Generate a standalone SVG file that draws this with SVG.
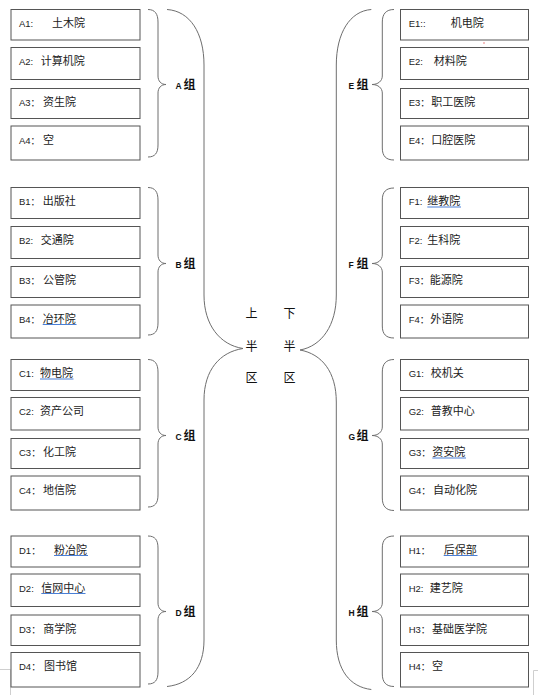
<svg xmlns="http://www.w3.org/2000/svg" width="538" height="695" viewBox="0 0 538 695">
<style>
.box{fill:#fff;stroke:#555;stroke-width:1}
.br{fill:none;stroke:#6e6e6e;stroke-width:1}
.t{font-family:"Liberation Sans","Noto Sans CJK SC",sans-serif;font-size:9.5px;fill:#222}
.n{font-family:"Noto Sans CJK SC","Noto Sans CJK JP",sans-serif;font-size:11px;fill:#222}
.g{font-family:"Liberation Sans","Noto Sans CJK SC",sans-serif;font-size:8.5px;font-weight:bold;fill:#111}
.gz{font-family:"Noto Sans CJK SC",sans-serif;font-size:12px;font-weight:bold;fill:#111}
.c{font-family:"Noto Sans CJK SC",sans-serif;font-size:12px;fill:#111}
.u{stroke:#4a7fd6;stroke-width:1.2}
.mark{fill:none;stroke:#cfcfcf;stroke-width:1}
</style>
<rect width="538" height="695" fill="#fff"/>

<!-- page marks -->
<path class="mark" d="M0,669.5 H10.5 V695"/>
<path class="mark" d="M538,670.5 H533.5 V695"/>
<circle cx="484" cy="43" r="0.7" fill="#e05050"/>

<g id="connectors">
  <!-- big braces -->
  <path class="br" d="M167,9.5 C190,11 204,33 204,65 L204,295 C204,325 220,345 243,348.5 C220,352 204,370 204,400 L204,640 C204,668 190,684 167,686.5"/>
  <path class="br" d="M371.3,9.5 C350,11 336.3,33 336.3,65 L336.3,295 C336.3,325 322,346 300,350 C322,354 336.3,372 336.3,402 L336.3,640 C336.3,670 350,687 371.3,689.5"/>
  <!-- left group braces -->
  <path class="br" d="M148,9.5 C155,9.5 158,14 158,22 L158,76 C158,81 161,84.5 166,84.5 C161,84.5 158,88 158,93 L158,145 C158,153 155,157 148,157"/>
  <path class="br" d="M148,187.5 C155,187.5 158,192 158,200 L158,255 C158,260 161,263.5 166,263.5 C161,263.5 158,267 158,272 L158,323 C158,331 155,335 148,335"/>
  <path class="br" d="M148,359.5 C155,359.5 158,364 158,372 L158,427 C158,432 161,435.5 166,435.5 C161,435.5 158,439 158,444 L158,495 C158,503 155,507 148,507"/>
  <path class="br" d="M148,536 C155,536 158,540 158,548 L158,603 C158,608 161,611.5 166,611.5 C161,611.5 158,615 158,620 L158,672 C158,680 155,684 148,684"/>
  <!-- right group braces -->
  <path class="br" d="M394,9.5 C386,9.5 382.3,14 382.3,22 L382.3,76 C382.3,81 378,84.5 372,84.5 C378,84.5 382.3,88 382.3,93 L382.3,148 C382.3,156 386,160 394,160"/>
  <path class="br" d="M394,188 C386,188 382.3,192 382.3,200 L382.3,255 C382.3,260 378,263.5 372,263.5 C378,263.5 382.3,267 382.3,272 L382.3,326 C382.3,334 386,338 394,338"/>
  <path class="br" d="M394,359.5 C386,359.5 382.3,364 382.3,372 L382.3,427 C382.3,432 378,435.5 372,435.5 C378,435.5 382.3,439 382.3,444 L382.3,498 C382.3,506 386,510.5 394,510.5"/>
  <path class="br" d="M394,536 C386,536 382.3,540 382.3,548 L382.3,603 C382.3,608 378,611.5 372,611.5 C378,611.5 382.3,615 382.3,620 L382.3,674 C382.3,682 386,686.5 394,686.5"/>
</g>

<!-- center labels -->
<g id="center">
  <text class="c" x="245.5" y="317.5">上</text>
  <text class="c" x="245.5" y="351">半</text>
  <text class="c" x="245.5" y="381.5">区</text>
  <text class="c" x="283.5" y="317.5">下</text>
  <text class="c" x="283.5" y="351">半</text>
  <text class="c" x="283.5" y="381.5">区</text>
</g>

<!-- group labels -->
<g id="groupA"><text x="175.5" y="88.5"><tspan class="g">A</tspan><tspan class="gz" x="183.5">组</tspan></text></g>
<g id="groupB"><text x="175.5" y="267.5"><tspan class="g">B</tspan><tspan class="gz" x="183.5">组</tspan></text></g>
<g id="groupC"><text x="175.5" y="439.5"><tspan class="g">C</tspan><tspan class="gz" x="183.5">组</tspan></text></g>
<g id="groupD"><text x="175.5" y="615.5"><tspan class="g">D</tspan><tspan class="gz" x="183.5">组</tspan></text></g>
<g id="groupE"><text x="348.5" y="88.5"><tspan class="g">E</tspan><tspan class="gz" x="356.5">组</tspan></text></g>
<g id="groupF"><text x="348.5" y="267.5"><tspan class="g">F</tspan><tspan class="gz" x="356.5">组</tspan></text></g>
<g id="groupG"><text x="348.5" y="439.5"><tspan class="g">G</tspan><tspan class="gz" x="356.5">组</tspan></text></g>
<g id="groupH"><text x="348.5" y="615.5"><tspan class="g">H</tspan><tspan class="gz" x="356.5">组</tspan></text></g>

<!-- left boxes -->
<g id="A1"><rect class="box" x="11" y="9.5" width="129" height="30.5"/><text class="t" x="19" y="27">A1:<tspan class="n" x="52">土木院</tspan></text></g>
<g id="A2"><rect class="box" x="11" y="47.5" width="129" height="32"/><text class="t" x="19" y="65">A2:<tspan class="n" x="40.7">计算机院</tspan></text></g>
<g id="A3"><rect class="box" x="11" y="88.5" width="129" height="30"/><text class="t" x="19" y="106">A3：<tspan class="n" x="43">资生院</tspan></text></g>
<g id="A4"><rect class="box" x="11" y="126" width="129" height="34"/><text class="t" x="19" y="143.5">A4：<tspan class="n" x="43">空</tspan></text></g>

<g id="B1"><rect class="box" x="11" y="187.5" width="129" height="31"/><text class="t" x="19" y="205">B1：<tspan class="n" x="42.7">出版社</tspan></text></g>
<g id="B2"><rect class="box" x="11" y="226.5" width="129" height="32"/><text class="t" x="19" y="244">B2:<tspan class="n" x="40.7">交通院</tspan></text></g>
<g id="B3"><rect class="box" x="11" y="266.5" width="129" height="31"/><text class="t" x="19" y="284">B3：<tspan class="n" x="43">公管院</tspan></text></g>
<g id="B4"><rect class="box" x="11" y="305" width="129" height="33"/><text class="t" x="19" y="322.5">B4：<tspan class="n" x="42.7">冶环院</tspan></text><line class="u" x1="42.7" y1="324.5" x2="76.5" y2="324.5"/></g>

<g id="C1"><rect class="box" x="11" y="359.5" width="129" height="31"/><text class="t" x="19" y="377">C1:<tspan class="n" x="40">物电院</tspan></text><line class="u" x1="40" y1="379" x2="73.5" y2="379"/></g>
<g id="C2"><rect class="box" x="11" y="397.5" width="129" height="32.5"/><text class="t" x="19" y="415">C2:<tspan class="n" x="40">资产公司</tspan></text></g>
<g id="C3"><rect class="box" x="11" y="438.5" width="129" height="30"/><text class="t" x="19" y="456">C3：<tspan class="n" x="43">化工院</tspan></text></g>
<g id="C4"><rect class="box" x="11" y="476" width="129" height="34"/><text class="t" x="19" y="493.5">C4：<tspan class="n" x="43">地信院</tspan></text></g>

<g id="D1"><rect class="box" x="11" y="536" width="129" height="31"/><text class="t" x="19" y="553.5">D1：<tspan class="n" x="54">粉冶院</tspan></text><line class="u" x1="54" y1="555.5" x2="88" y2="555.5"/></g>
<g id="D2"><rect class="box" x="11" y="574" width="129" height="32.5"/><text class="t" x="19" y="591.5">D2:<tspan class="n" x="41.3">信网中心</tspan></text><line class="u" x1="41.3" y1="593.5" x2="85.5" y2="593.5"/></g>
<g id="D3"><rect class="box" x="11" y="615" width="129" height="30.5"/><text class="t" x="19" y="632.5">D3：<tspan class="n" x="43.3">商学院</tspan></text></g>
<g id="D4"><rect class="box" x="11" y="652.5" width="129" height="34.5"/><text class="t" x="19" y="670">D4：<tspan class="n" x="44">图书馆</tspan></text></g>

<!-- right boxes -->
<g id="E1"><rect class="box" x="400.5" y="9.5" width="128" height="30.5"/><text class="t" x="408.7" y="27">E1::<tspan class="n" x="450.7">机电院</tspan></text></g>
<g id="E2"><rect class="box" x="400.5" y="47.5" width="128" height="32"/><text class="t" x="408.7" y="65">E2:<tspan class="n" x="433.7">材料院</tspan></text></g>
<g id="E3"><rect class="box" x="400.5" y="88.5" width="128" height="30"/><text class="t" x="408.7" y="106">E3：<tspan class="n" x="431.3">职工医院</tspan></text></g>
<g id="E4"><rect class="box" x="400.5" y="126" width="128" height="34"/><text class="t" x="408.7" y="143.5">E4：<tspan class="n" x="431.3">口腔医院</tspan></text></g>

<g id="F1"><rect class="box" x="400.5" y="187.5" width="128" height="31"/><text class="t" x="408.7" y="205">F1:<tspan class="n" x="427.3">继教院</tspan></text><line class="u" x1="427.3" y1="207" x2="461" y2="207"/></g>
<g id="F2"><rect class="box" x="400.5" y="226.5" width="128" height="32"/><text class="t" x="408.7" y="244">F2:<tspan class="n" x="427.3">生科院</tspan></text></g>
<g id="F3"><rect class="box" x="400.5" y="266.5" width="128" height="31"/><text class="t" x="408.7" y="284">F3：<tspan class="n" x="429.7">能源院</tspan></text></g>
<g id="F4"><rect class="box" x="400.5" y="305" width="128" height="33"/><text class="t" x="408.7" y="322.5">F4：<tspan class="n" x="430.3">外语院</tspan></text></g>

<g id="G1"><rect class="box" x="400.5" y="359.5" width="128" height="31"/><text class="t" x="408.7" y="377">G1:<tspan class="n" x="430.7">校机关</tspan></text></g>
<g id="G2"><rect class="box" x="400.5" y="397.5" width="128" height="32.5"/><text class="t" x="408.7" y="415">G2:<tspan class="n" x="430.7">普教中心</tspan></text></g>
<g id="G3"><rect class="box" x="400.5" y="438.5" width="128" height="30"/><text class="t" x="408.7" y="456">G3：<tspan class="n" x="432.3">资安院</tspan></text><line class="u" x1="432.3" y1="458" x2="466" y2="458"/></g>
<g id="G4"><rect class="box" x="400.5" y="476" width="128" height="34"/><text class="t" x="408.7" y="493.5">G4：<tspan class="n" x="433">自动化院</tspan></text></g>

<g id="H1"><rect class="box" x="400.5" y="536" width="128" height="31"/><text class="t" x="408.7" y="553.5">H1：<tspan class="n" x="443.7">后保部</tspan></text><line class="u" x1="443.7" y1="555.5" x2="477.5" y2="555.5"/></g>
<g id="H2"><rect class="box" x="400.5" y="574" width="128" height="32.5"/><text class="t" x="408.7" y="591.5">H2:<tspan class="n" x="429.7">建艺院</tspan></text></g>
<g id="H3"><rect class="box" x="400.5" y="615" width="128" height="30.5"/><text class="t" x="408.7" y="632.5">H3：<tspan class="n" x="432">基础医学院</tspan></text></g>
<g id="H4"><rect class="box" x="400.5" y="652.5" width="128" height="34.5"/><text class="t" x="408.7" y="670">H4：<tspan class="n" x="432">空</tspan></text></g>
</svg>
